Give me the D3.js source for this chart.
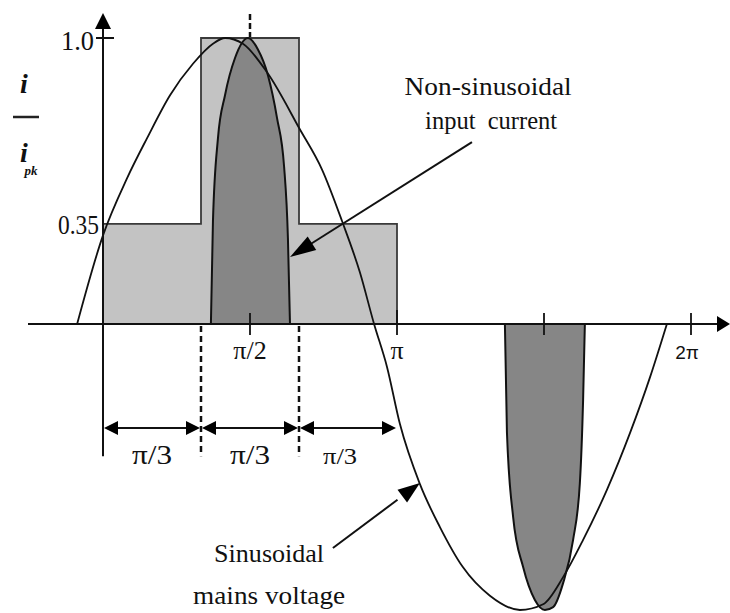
<!DOCTYPE html>
<html>
<head>
<meta charset="utf-8">
<script src="https://cdn.jsdelivr.net/npm/d3@7"></script>
<style>
  body { margin: 0; background: #fff; }
  svg { display: block; }
  text { font-family: "Liberation Serif", "Times New Roman", serif; fill: #111; }
</style>
</head>
<body>
<div id="vis"></div>
<script>
var width = 730;
var height = 613;

// angle in multiples of pi, value in i / i_pk
var voltage = [
    [-0.088, 0], [0, 0.31], [0.082, 0.51], [0.150, 0.65], [0.228, 0.80],
    [0.306, 0.91], [0.374, 0.98], [0.415, 1.0], [0.476, 0.98], [0.558, 0.88],
    [0.670, 0.68], [0.745, 0.54], [0.813, 0.36], [0.874, 0.18], [0.922, 0],
    [0.966, -0.15], [1.010, -0.35], [1.078, -0.56], [1.146, -0.71], [1.224, -0.85],
    [1.316, -0.95], [1.418, -1.0], [1.497, -0.98], [1.565, -0.885], [1.633, -0.755],
    [1.714, -0.58], [1.793, -0.38], [1.861, -0.185], [1.918, 0]
];
var currentPos = [
    [0.367, 0], [0.374, 0.36], [0.391, 0.65], [0.415, 0.80], [0.449, 0.93],
    [0.493, 1.0], [0.527, 0.96], [0.561, 0.87], [0.592, 0.72], [0.616, 0.55],
    [0.629, 0.30], [0.636, 0]
];
var currentNeg = [
    [1.367, 0], [1.374, -0.38], [1.395, -0.675], [1.429, -0.85], [1.469, -0.965],
    [1.503, -1.0], [1.531, -0.99], [1.565, -0.906], [1.599, -0.755], [1.622, -0.556],
    [1.633, -0.266], [1.639, 0]
];
// stepped approximation: edges and levels
var stepEdges = [0, 1 / 3, 2 / 3, 1];
var stepLevels = [0.35, 1.0, 0.35];
var xTicks = [0.5, 1, 1.5, 2];
var xTickLabels = ["π/2", "π", "", "2π"];
var yTicks = [1.0, 0.35];
var yTickLabels = ["1.0", "0.35"];
var spanLabels = ["π/3", "π/3", "π/3"];

var x = d3.scaleLinear().domain([0, 2]).range([103, 691]);
var y = d3.scaleLinear().domain([0, 1]).range([324, 38]);

var svg = d3.select('#vis').append('svg')
    .attr('width', width)
    .attr('height', height);

// filled triangle with its tip at (tx, ty), pointing along (dx, dy)
function arrowHead(g, tx, ty, dx, dy, len, half) {
    var n = Math.sqrt(dx * dx + dy * dy);
    var ux = dx / n, uy = dy / n;
    var bx = tx - ux * len, by = ty - uy * len;
    g.append('path')
        .attr('d', 'M' + tx + ',' + ty +
            'L' + (bx - uy * half) + ',' + (by + ux * half) +
            'L' + (bx + uy * half) + ',' + (by - ux * half) + 'Z')
        .attr('fill', '#000');
}

// light gray stepped current
var stepData = stepLevels.map(function (v, i) { return [stepEdges[i], v]; });
stepData.push([stepEdges[stepEdges.length - 1], stepLevels[stepLevels.length - 1]]);
svg.append('path')
    .datum(stepData)
    .attr('d', d3.area()
        .x(function (d) { return x(d[0]); })
        .y0(y(0))
        .y1(function (d) { return y(d[1]); })
        .curve(d3.curveStepAfter))
    .attr('fill', '#c3c3c3')
    .attr('stroke', '#3a3a3a')
    .attr('stroke-width', 1.8);

// dark gray pulses
var pulseLine = d3.line()
    .x(function (d) { return x(d[0]); })
    .y(function (d) { return y(d[1]); })
    .curve(d3.curveMonotoneX);
svg.selectAll('.pulse')
    .data([currentPos, currentNeg])
    .enter().append('path')
    .attr('class', 'pulse')
    .attr('d', function (d) { return pulseLine(d) + 'Z'; })
    .attr('fill', '#868686')
    .attr('stroke', '#111')
    .attr('stroke-width', 2);

// axes
svg.append('line')
    .attr('x1', 28).attr('x2', 722)
    .attr('y1', y(0)).attr('y2', y(0))
    .attr('stroke', '#111').attr('stroke-width', 2);
arrowHead(svg, 730, y(0), 1, 0, 13, 8);
svg.append('line')
    .attr('x1', x(0)).attr('x2', x(0))
    .attr('y1', y(-0.462)).attr('y2', 26)
    .attr('stroke', '#111').attr('stroke-width', 2);
arrowHead(svg, x(0), 13, 0, -1, 16, 8);

// x ticks
svg.selectAll('.xtick')
    .data(xTicks)
    .enter().append('line')
    .attr('x1', function (d) { return x(d); })
    .attr('x2', function (d) { return x(d); })
    .attr('y1', function (d) { return d == 1 ? 310 : 313; })
    .attr('y2', 335)
    .attr('stroke', '#111').attr('stroke-width', 1.8);
svg.selectAll('.xlab')
    .data(xTicks)
    .enter().append('text')
    .attr('x', function (d) { return x(d) + (d == 2 ? -4 : 0); })
    .attr('y', 359)
    .attr('text-anchor', 'middle')
    .style('font-size', function (d) { return d == 2 ? '19px' : '26px'; })
    .style('font-family', function (d) { return d == 2 ? '"Liberation Sans", Arial, sans-serif' : null; })
    .text(function (d, i) { return xTickLabels[i]; });

// y ticks
svg.append('line')
    .attr('x1', 96).attr('x2', 114)
    .attr('y1', y(1)).attr('y2', y(1))
    .attr('stroke', '#111').attr('stroke-width', 2);
svg.selectAll('.ylab')
    .data(yTicks)
    .enter().append('text')
    .attr('x', function (d) { return d == 1 ? 94 : 99; })
    .attr('y', function (d) { return y(d) + (d == 1 ? 12 : 10); })
    .attr('text-anchor', 'end')
    .attr('textLength', function (d) { return d == 1 ? 33 : 41; })
    .attr('lengthAdjust', 'spacingAndGlyphs')
    .style('font-size', '28px')
    .text(function (d, i) { return yTickLabels[i]; });

// dashed marker above pi/2
svg.append('line')
    .attr('x1', x(0.5)).attr('x2', x(0.5))
    .attr('y1', 14).attr('y2', 37)
    .attr('stroke', '#111').attr('stroke-width', 2.5)
    .attr('stroke-dasharray', '6,3');

// sinusoidal mains voltage
svg.append('path')
    .datum(voltage)
    .attr('d', pulseLine)
    .attr('fill', 'none')
    .attr('stroke', '#111')
    .attr('stroke-width', 1.8);

// pi/3 spans
var dimY = y(-0.364);
svg.selectAll('.dash')
    .data(stepEdges.slice(1, 3))
    .enter().append('line')
    .attr('x1', function (d) { return x(d); })
    .attr('x2', function (d) { return x(d); })
    .attr('y1', y(0) + 2).attr('y2', y(-0.462))
    .attr('stroke', '#111').attr('stroke-width', 2.5)
    .attr('stroke-dasharray', '6,4');
spanLabels.forEach(function (lab, i) {
    var a = x(stepEdges[i]), b = x(stepEdges[i + 1]);
    svg.append('line')
        .attr('x1', a + 6).attr('x2', b - 6)
        .attr('y1', dimY).attr('y2', dimY)
        .attr('stroke', '#111').attr('stroke-width', 2);
    arrowHead(svg, a + 1, dimY, -1, 0, 14, 7);
    arrowHead(svg, b - 1, dimY, 1, 0, 14, 7);
    svg.append('text')
        .attr('x', (a + b) / 2 + (i == 2 ? -8 : 0))
        .attr('y', 464)
        .attr('text-anchor', 'middle')
        .attr('textLength', i == 2 ? 34 : 40)
        .attr('lengthAdjust', 'spacingAndGlyphs')
        .style('font-size', i == 2 ? '24px' : '27px')
        .text(lab);
});

// y label i / i_pk
svg.append('text').attr('x', 24).attr('y', 93).attr('text-anchor', 'middle')
    .style('font-size', '28px').style('font-style', 'italic').style('font-weight', 'bold')
    .text('i');
svg.append('line').attr('x1', 13).attr('x2', 39).attr('y1', 117).attr('y2', 117)
    .attr('stroke', '#222').attr('stroke-width', 2.5);
svg.append('text').attr('x', 24).attr('y', 162).attr('text-anchor', 'middle')
    .style('font-size', '28px').style('font-style', 'italic').style('font-weight', 'bold')
    .text('i');
svg.append('text').attr('x', 31).attr('y', 175).attr('text-anchor', 'middle')
    .style('font-size', '13px').style('font-style', 'italic').style('font-weight', 'bold')
    .text('pk');

// annotations
var notes = [
    { from: [1.255, 0.636], to: [0.636, 0.234], gap: 0, len: 26,
      lines: [{ t: 'Non-sinusoidal', x: 1.310, y: 0.801, w: 167 },
              { t: 'input  current', x: 1.320, y: 0.682, w: 132 }] },
    { from: [0.782, -0.783], to: [1.078, -0.556], gap: 8, len: 22,
      lines: [{ t: 'Sinusoidal', x: 0.565, y: -0.832, w: 110 },
              { t: 'mains voltage', x: 0.565, y: -0.979, w: 152 }] }
];
notes.forEach(function (n) {
    var x0 = x(n.from[0]), y0 = y(n.from[1]);
    var x1 = x(n.to[0]), y1 = y(n.to[1]);
    var dx = x1 - x0, dy = y1 - y0;
    var L = Math.sqrt(dx * dx + dy * dy);
    var k = (L - n.len - n.gap + 2) / L;
    svg.append('line')
        .attr('x1', x0).attr('y1', y0)
        .attr('x2', x0 + dx * k).attr('y2', y0 + dy * k)
        .attr('stroke', '#111').attr('stroke-width', 2);
    arrowHead(svg, x1, y1, dx, dy, n.len, 8);
    n.lines.forEach(function (l) {
        svg.append('text')
            .attr('x', x(l.x)).attr('y', y(l.y))
            .attr('text-anchor', 'middle')
            .attr('textLength', l.w)
            .attr('lengthAdjust', 'spacingAndGlyphs')
            .style('font-size', '26px')
            .style('white-space', 'pre')
            .text(l.t);
    });
});
</script>
</body>
</html>
